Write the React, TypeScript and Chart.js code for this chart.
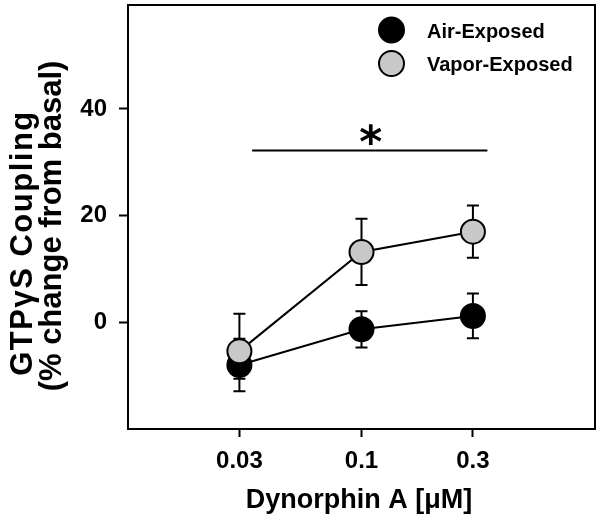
import React, { useEffect, useRef } from "react";
import { Chart, registerables } from "chart.js";

Chart.register(...registerables);

// ---- data ----
const doses = [0.03, 0.1, 0.3];
const xTickLabels = ["0.03", "0.1", "0.3"];
const yTicks = [0, 20, 40];
const airMean = [-8.0, -1.3, 1.2];
const airErrUp = [4.9, 3.4, 4.2];
const airErrDown = [4.9, 3.4, 4.2];
const vaporMean = [-5.4, 13.2, 17.0];
const vaporErrUp = [7.0, 6.2, 4.9];
const vaporErrDown = [5.2, 6.2, 4.9];
const sigX = [0.034, 0.346];
const sigY = 32.2;
const seriesNames = ["Air-Exposed", "Vapor-Exposed"];
const xTitle = "Dynorphin A [\u03BCM]";
const yTitle = ["GTP\u03B3S Coupling", "(% change from basal)"];

const FONT = "'Liberation Sans', Arial, Helvetica, sans-serif";
const GRAY = "#c8c8c8";

const errorBarPlugin = {
  id: "errorBars",
  beforeDatasetsDraw(chart: any) {
    const { ctx, scales } = chart;
    const xs = scales.x, ys = scales.y;
    const sets = [
      { mean: airMean, up: airErrUp, down: airErrDown },
      { mean: vaporMean, up: vaporErrUp, down: vaporErrDown },
    ];
    ctx.save();
    ctx.strokeStyle = "#000";
    ctx.lineWidth = 2;
    sets.forEach((s) => {
      doses.forEach((d, i) => {
        const px = xs.getPixelForValue(d);
        const top = ys.getPixelForValue(s.mean[i] + s.up[i]);
        const bot = ys.getPixelForValue(s.mean[i] - s.down[i]);
        ctx.beginPath();
        ctx.moveTo(px, top);
        ctx.lineTo(px, bot);
        ctx.moveTo(px - 6, top);
        ctx.lineTo(px + 6, top);
        ctx.moveTo(px - 6, bot);
        ctx.lineTo(px + 6, bot);
        ctx.stroke();
      });
    });
    ctx.restore();
  },
};

const decorPlugin = {
  id: "decor",
  afterDraw(chart: any) {
    const { ctx, chartArea, scales } = chart;
    ctx.save();
    // frame
    ctx.strokeStyle = "#000";
    ctx.lineWidth = 2;
    ctx.strokeRect(chartArea.left, chartArea.top, chartArea.right - chartArea.left, chartArea.bottom - chartArea.top);

    // x title
    ctx.fillStyle = "#000";
    ctx.font = `bold 27px ${FONT}`;
    ctx.textAlign = "center";
    ctx.textBaseline = "alphabetic";
    ctx.fillText(xTitle, 359, 508);

    // y title (two lines, rotated)
    ctx.font = `bold 31px ${FONT}`;
    const lines = [
      { text: yTitle[0], x: 32, y: 243, spacing: "1.5px" },
      { text: yTitle[1], x: 61, y: 226, spacing: "0px" },
    ];
    lines.forEach((l) => {
      ctx.save();
      (ctx as any).letterSpacing = l.spacing;
      ctx.translate(l.x, l.y);
      ctx.rotate(-Math.PI / 2);
      ctx.fillText(l.text, 0, 0);
      ctx.restore();
    });

    // legend
    const leg = [
      { fill: "#000", y: 30 },
      { fill: GRAY, y: 63.5 },
    ];
    leg.forEach((g, i) => {
      ctx.beginPath();
      ctx.arc(391.5, g.y, 12.5, 0, Math.PI * 2);
      ctx.fillStyle = g.fill;
      ctx.fill();
      ctx.lineWidth = 2;
      ctx.strokeStyle = "#000";
      ctx.stroke();
      ctx.fillStyle = "#000";
      ctx.font = `bold 20px ${FONT}`;
      ctx.textAlign = "left";
      ctx.textBaseline = "alphabetic";
      ctx.fillText(seriesNames[i], 427, g.y + 7.5);
    });

    // significance asterisk
    const xs = scales.x, ys = scales.y;
    const cx = (xs.getPixelForValue(sigX[0]) + xs.getPixelForValue(sigX[1])) / 2;
    const cy = ys.getPixelForValue(sigY) - 16;
    ctx.font = `bold 44px 'DejaVu Sans', sans-serif`;
    ctx.textAlign = "center";
    ctx.textBaseline = "alphabetic";
    const m = ctx.measureText("*");
    const by = cy + (m.actualBoundingBoxAscent - m.actualBoundingBoxDescent) / 2;
    ctx.fillText("*", cx + 1, by);
    ctx.restore();
  },
};

export default function App() {
  const ref = useRef<HTMLCanvasElement>(null);
  useEffect(() => {
    if (!ref.current) return;
    const chart = new Chart(ref.current, {
      type: "line",
      data: {
        datasets: [
          {
            label: seriesNames[1],
            data: doses.map((d, i) => ({ x: d, y: vaporMean[i] })),
            borderColor: "#000",
            borderWidth: 2,
            pointRadius: 12,
            pointBackgroundColor: GRAY,
            pointBorderColor: "#000",
            pointBorderWidth: 2,
            order: 0,
          },
          {
            label: seriesNames[0],
            data: doses.map((d, i) => ({ x: d, y: airMean[i] })),
            borderColor: "#000",
            borderWidth: 2,
            pointRadius: 12,
            pointBackgroundColor: "#000",
            pointBorderColor: "#000",
            pointBorderWidth: 2,
            order: 1,
          },
          {
            label: "sig",
            data: [
              { x: sigX[0], y: sigY },
              { x: sigX[1], y: sigY },
            ],
            borderColor: "#000",
            borderWidth: 2,
            pointRadius: 0,
            order: 2,
          },
        ],
      },
      options: {
        animation: false,
        responsive: false,
        layout: { autoPadding: false, padding: { top: 5, right: 5, left: 0, bottom: 0 } },
        plugins: { legend: { display: false }, title: { display: false }, tooltip: { enabled: false } },
        scales: {
          x: {
            type: "logarithmic",
            position: "bottom",
            min: 0.01,
            max: 1,
            afterBuildTicks: (s: any) => {
              s.ticks = doses.map((v) => ({ value: v }));
            },
            afterFit: (s: any) => {
              s.height = 88;
              s.paddingLeft = 0;
              s.paddingRight = 0;
            },
            ticks: {
              autoSkip: false,
              maxRotation: 0,
              padding: 10,
              color: "#000",
              font: { family: FONT, size: 24, weight: "bold" },
              callback: (_v: any, i: number) => xTickLabels[i],
            },
            grid: { drawOnChartArea: false, tickLength: 8, tickWidth: 2, tickColor: "#000" },
            border: { display: true, color: "#000", width: 2 },
          },
          y: {
            type: "linear",
            min: -20,
            max: 59.5,
            afterBuildTicks: (s: any) => {
              s.ticks = yTicks.map((v) => ({ value: v }));
            },
            afterFit: (s: any) => {
              s.width = 128;
              s.paddingTop = 0;
              s.paddingBottom = 0;
            },
            ticks: {
              padding: 12,
              color: "#000",
              font: { family: FONT, size: 24, weight: "bold" },
              callback: (v: any) => String(v),
            },
            grid: { drawOnChartArea: false, tickLength: 9, tickWidth: 2, tickColor: "#000" },
            border: { display: true, color: "#000", width: 2 },
          },
        },
      },
      plugins: [errorBarPlugin, decorPlugin],
    });
    return () => chart.destroy();
  }, []);
  return (
    <div style={{ position: "absolute", left: 0, top: 0, width: 600, height: 517, background: "#fff" }}>
      <canvas ref={ref} width={600} height={517} style={{ width: 600, height: 517, display: "block" }} />
    </div>
  );
}
